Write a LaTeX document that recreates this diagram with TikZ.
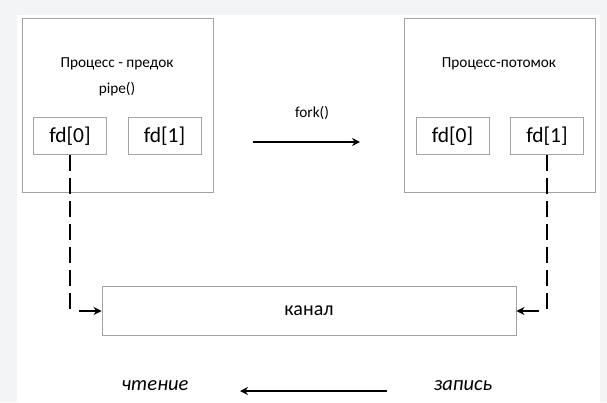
\documentclass[tikz,border=0pt]{standalone}
\usepackage{fontspec}
\setmainfont{Carlito}
\usetikzlibrary{arrows.meta}

\definecolor{boxgray}{HTML}{A3A3A3}
\definecolor{pagegray}{HTML}{F3F4F5}

\begin{document}
\begin{tikzpicture}[x=1pt,y=-1pt,
  procbox/.style={draw=boxgray, line width=0.9pt, minimum width=191pt, minimum height=174pt, inner sep=0pt},
  fdbox/.style={draw=boxgray, line width=0.9pt, minimum width=73pt, minimum height=37pt, inner sep=0pt, font=\fontsize{21.5}{24}\selectfont},
  chanbox/.style={draw=boxgray, line width=0.9pt, minimum width=414pt, minimum height=49pt, inner sep=0pt, font=\fontsize{20}{23}\selectfont},
  caption/.style={font=\fontsize{15.3}{18}\selectfont},
  flow/.style={font=\fontsize{20.5}{23}\selectfont\itshape},
  pipeline/.style={line width=2pt, dash pattern=on 16pt off 7pt},
  pipearrow/.style={line width=2pt, -{Stealth[length=8pt,width=8pt]}}]
% page background
\useasboundingbox (0,0) rectangle (607,402);
\fill[pagegray] (0,0) rectangle (607,402);
\fill[white] (17,15) rectangle (600,402);

% parent process
\node[procbox] (parent) at (117.5,105) {};
\node[caption] (ptitle) at (117,64) {Процесс - предок};
\node[caption] (pipe) at (117,89) {pipe()};
\node[fdbox] (pfd0) at (70,136) {fd[0]};
\node[fdbox] (pfd1) at (164.5,136) {fd[1]};

% child process
\node[procbox] (child) at (500,105) {};
\node[caption] (ctitle) at (499,64) {Процесс-потомок};
\node[fdbox] (cfd0) at (452.5,136) {fd[0]};
\node[fdbox] (cfd1) at (547,136) {fd[1]};

% fork
\node[caption] (fork) at (312,113) {fork()};
\coordinate (forkstart) at (253,142);
\coordinate (forkend) at (360,142);
\draw[pipearrow] (forkstart) -- (forkend);

% the pipe itself
\node[chanbox] (chan) at (309,311) {канал};

% descriptors to the pipe
\draw[pipeline] (pfd0.south) -- (pfd0.south |- 0,311) coordinate (lbend);
\draw[pipearrow] ([xshift=9pt]lbend) -- (chan.west);
\draw[pipeline] (cfd1.south) -- (cfd1.south |- 0,311) coordinate (rbend);
\draw[pipearrow] ([xshift=-8pt]rbend) -- (chan.east);

% direction of data
\node[flow] (read) at (155,386) {чтение};
\node[flow] (write) at (463,386) {запись};
\coordinate (rdstart) at (387,391);
\coordinate (rdend) at (240,391);
\draw[pipearrow] (rdstart) -- (rdend);
\end{tikzpicture}
\end{document}
